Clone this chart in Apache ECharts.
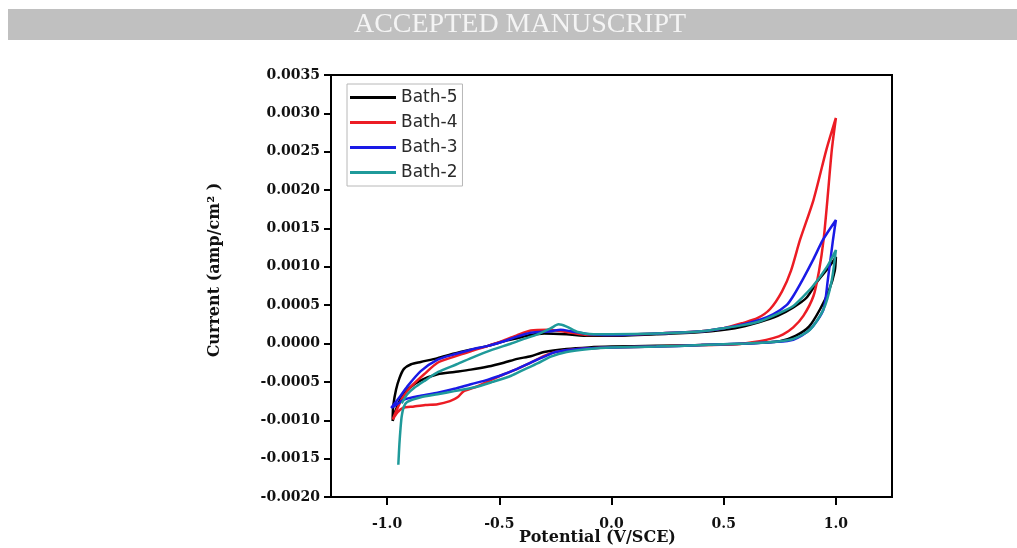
<!DOCTYPE html>
<html>
<head>
<meta charset="utf-8">
<script src="https://cdn.jsdelivr.net/npm/echarts@6/dist/echarts.min.js"></script>
<style>
html,body{margin:0;padding:0;background:#fff;}
#chart{width:1017px;height:548px;}
</style>
</head>
<body>
<div id="chart"></div>
<script>
// Tick positions / labels
const xTicks = [-1.0, -0.5, 0.0, 0.5, 1.0];
const yMin = -0.0020, yMax = 0.0035, yStep = 0.0005;

// Series names
const seriesNames = ['Bath-5', 'Bath-4', 'Bath-3', 'Bath-2'];

// Bath-5 loop: [potential (V/SCE), current (amp/cm^2)]
const bath5 = [
  [-0.975,-0.00101],[-0.965,-0.0009],[-0.94,-0.00072],[-0.9,-0.00058],[-0.85,-0.00048],
  [-0.775,-0.0004],[-0.7,-0.00037],[-0.627,-0.00034],[-0.55,-0.0003],[-0.48,-0.00025],
  [-0.42,-0.0002],[-0.36,-0.000165],[-0.3,-0.00011],[-0.2,-0.00007],[-0.1,-0.00005],
  [0.0,-0.00004],[0.2,-0.00003],[0.4,-0.00002],[0.6,0.0],[0.75,0.00003],[0.82,0.0001],
  [0.88,0.00022],[0.93,0.00045],[0.97,0.0007],[0.995,0.00095],[1.0,0.00113],
  [0.97,0.001],[0.92,0.00082],[0.87,0.0006],[0.81,0.00047],[0.74,0.00036],[0.66,0.00028],
  [0.55,0.0002],[0.4,0.00015],[0.2,0.00012],[0.0,0.0001],[-0.1,0.0001],[-0.2,0.00012],
  [-0.3,0.00013],[-0.36,0.00011],[-0.42,0.00007],[-0.48,0.00003],[-0.55,-0.00003],
  [-0.627,-0.00008],[-0.7,-0.00013],[-0.775,-0.00019],[-0.85,-0.00024],[-0.893,-0.00027],
  [-0.925,-0.00033],[-0.945,-0.00045],[-0.96,-0.0006],[-0.972,-0.0008],[-0.975,-0.00095],
  [-0.975,-0.00101]
];

// Bath-4 loop
const bath4 = [
  [-0.975,-0.00099],[-0.955,-0.0009],[-0.93,-0.00084],[-0.88,-0.00082],[-0.83,-0.0008],
  [-0.775,-0.00079],[-0.72,-0.00075],[-0.686,-0.0007],[-0.658,-0.00062],[-0.6,-0.00056],
  [-0.54,-0.00048],[-0.48,-0.0004],[-0.42,-0.00033],[-0.36,-0.00025],[-0.3,-0.00016],
  [-0.25,-0.00011],[-0.15,-0.00007],[0.0,-0.00005],[0.2,-0.00004],[0.4,-0.00002],
  [0.55,-0.00001],[0.66,0.00003],[0.72,0.00007],[0.765,0.00012],[0.81,0.00021],
  [0.855,0.00036],[0.9,0.00062],[0.925,0.00095],[0.945,0.00135],[0.962,0.00187],
  [0.982,0.00253],[1.0,0.00294],
  [0.958,0.00253],[0.9,0.00187],[0.84,0.00135],[0.8,0.00095],[0.76,0.00068],
  [0.707,0.00045],[0.65,0.00033],[0.587,0.00027],[0.5,0.0002],[0.4,0.00016],[0.2,0.00013],
  [0.0,0.00011],[-0.1,0.00011],[-0.2,0.00015],[-0.28,0.00018],[-0.36,0.00017],
  [-0.42,0.00011],[-0.48,0.00004],[-0.55,-0.00003],[-0.627,-0.0001],[-0.7,-0.00017],
  [-0.775,-0.00025],[-0.835,-0.0004],[-0.893,-0.00056],[-0.93,-0.0007],[-0.955,-0.00085],
  [-0.975,-0.00099]
];

// Bath-3 loop
const bath3 = [
  [-0.982,-0.00084],[-0.96,-0.0008],[-0.924,-0.00073],[-0.85,-0.00068],[-0.775,-0.00064],
  [-0.7,-0.00059],[-0.627,-0.00053],[-0.55,-0.00047],[-0.48,-0.0004],[-0.42,-0.00033],
  [-0.36,-0.00025],[-0.3,-0.00017],[-0.25,-0.00011],[-0.15,-0.00007],[0.0,-0.00005],
  [0.2,-0.00004],[0.4,-0.00002],[0.6,0.0],[0.72,0.00002],[0.81,0.00005],[0.884,0.00018],
  [0.944,0.00044],[0.964,0.00083],[0.987,0.00135],[1.0,0.00161],
  [0.942,0.00135],[0.9,0.0011],[0.855,0.00085],[0.81,0.00062],[0.78,0.0005],[0.72,0.00038],
  [0.662,0.00031],[0.587,0.00025],[0.5,0.0002],[0.4,0.00016],[0.2,0.00013],[0.0,0.00011],
  [-0.1,0.00012],[-0.18,0.00016],[-0.227,0.00018],[-0.27,0.00016],[-0.36,0.00014],
  [-0.42,0.00009],[-0.48,0.00003],[-0.55,-0.00003],[-0.627,-0.00008],[-0.7,-0.00014],
  [-0.775,-0.00021],[-0.85,-0.00036],[-0.91,-0.00056],[-0.95,-0.00072],[-0.982,-0.00084]
];

// Bath-2 loop
const bath2 = [
  [-0.95,-0.00158],[-0.945,-0.0013],[-0.94,-0.0011],[-0.935,-0.00095],[-0.925,-0.00082],
  [-0.91,-0.00076],[-0.85,-0.0007],[-0.775,-0.00066],[-0.7,-0.00062],[-0.61,-0.00057],
  [-0.53,-0.0005],[-0.447,-0.00042],[-0.39,-0.00034],[-0.33,-0.00026],[-0.27,-0.00017],
  [-0.2,-0.00011],[-0.1,-0.00007],[0.0,-0.00005],[0.2,-0.00004],[0.4,-0.00002],[0.6,0.0],
  [0.72,0.00002],[0.81,0.00006],[0.884,0.00018],[0.944,0.00044],[0.98,0.0008],[1.0,0.00122],
  [0.96,0.001],[0.898,0.00075],[0.85,0.0006],[0.81,0.00049],[0.75,0.0004],[0.662,0.00029],
  [0.587,0.00024],[0.5,0.0002],[0.4,0.00016],[0.2,0.00013],[0.0,0.00012],[-0.08,0.00012],
  [-0.15,0.00015],[-0.2,0.00022],[-0.236,0.00025],[-0.27,0.0002],[-0.33,0.00012],
  [-0.39,0.00006],[-0.447,0.0],[-0.53,-0.00008],[-0.61,-0.00017],[-0.69,-0.00027],
  [-0.772,-0.00037],[-0.83,-0.00048],[-0.88,-0.00058],[-0.91,-0.00066],[-0.935,-0.00078]
];

const colors = ['#000000', '#ec1c24', '#1a1ae6', '#1f9a9a'];
const loops = [bath5, bath4, bath3, bath2];

const chart = echarts.init(document.getElementById('chart'), null, {renderer: 'canvas'});
const serif = '"Liberation Serif", "Times New Roman", serif';
const wideSerif = '"DejaVu Serif", "Liberation Serif", serif';

chart.setOption({
  animation: false,
  backgroundColor: '#ffffff',
  graphic: [
    {type: 'rect', left: 8, top: 9, shape: {width: 1009, height: 31}, style: {fill: '#c0c0c0'}, z: 0},
    {type: 'text', x: 520, y: 25, style: {text: 'ACCEPTED MANUSCRIPT', fill: '#f4f4f4',
      font: '28px ' + serif, textAlign: 'center', textVerticalAlign: 'middle'}, z: 1}
  ],
  grid: {left: 331, right: 125, top: 75, bottom: 51, show: true, borderColor: '#000', borderWidth: 2,
    containLabel: false, outerBoundsMode: 'none'},
  legend: {
    data: seriesNames,
    orient: 'vertical',
    left: 347, top: 84,
    icon: 'rect',
    itemWidth: 46, itemHeight: 3, itemGap: 8,
    padding: [5, 5, 5, 3],
    borderColor: '#b8b8b8', borderWidth: 1,
    textStyle: {fontFamily: '"DejaVu Sans", sans-serif', fontSize: 17, color: '#2a2a2a'}
  },
  xAxis: {
    type: 'value', min: -1.25, max: 1.25,
    splitLine: {show: false},
    axisLine: {onZero: false, lineStyle: {color: '#000', width: 2}},
    axisTick: {show: true, inside: false, length: 8, lineStyle: {width: 2, color: '#000'}, customValues: xTicks},
    axisLabel: {customValues: xTicks, formatter: v => v.toFixed(1), margin: 20,
      fontFamily: wideSerif, fontWeight: 'bold', fontSize: 14, color: '#111'},
    name: 'Potential (V/SCE)', nameLocation: 'middle', nameGap: 33, nameMoveOverlap: false,
    nameTextStyle: {fontFamily: wideSerif, fontWeight: 'bold', fontSize: 16, color: '#111', padding: [0, 28, 0, 0]}
  },
  yAxis: {
    type: 'value', min: yMin, max: yMax, interval: yStep,
    splitLine: {show: false},
    axisLine: {onZero: false, lineStyle: {color: '#000', width: 2}},
    axisTick: {show: true, inside: false, length: 7, lineStyle: {width: 2, color: '#000'}},
    axisLabel: {formatter: v => v.toFixed(4), margin: 11,
      fontFamily: wideSerif, fontWeight: 'bold', fontSize: 14, color: '#111'},
    name: 'Current (amp/cm² )', nameLocation: 'middle', nameGap: 108, nameMoveOverlap: false,
    nameTextStyle: {fontFamily: wideSerif, fontWeight: 'bold', fontSize: 16, color: '#111', padding: [0, 0, 0, 32]}
  },
  series: loops.map((d, i) => ({
    name: seriesNames[i], type: 'line', data: d,
    symbol: 'none', smooth: 0.25,
    lineStyle: {color: colors[i], width: 2.5},
    itemStyle: {color: colors[i]}
  }))
});
</script>
</body>
</html>
